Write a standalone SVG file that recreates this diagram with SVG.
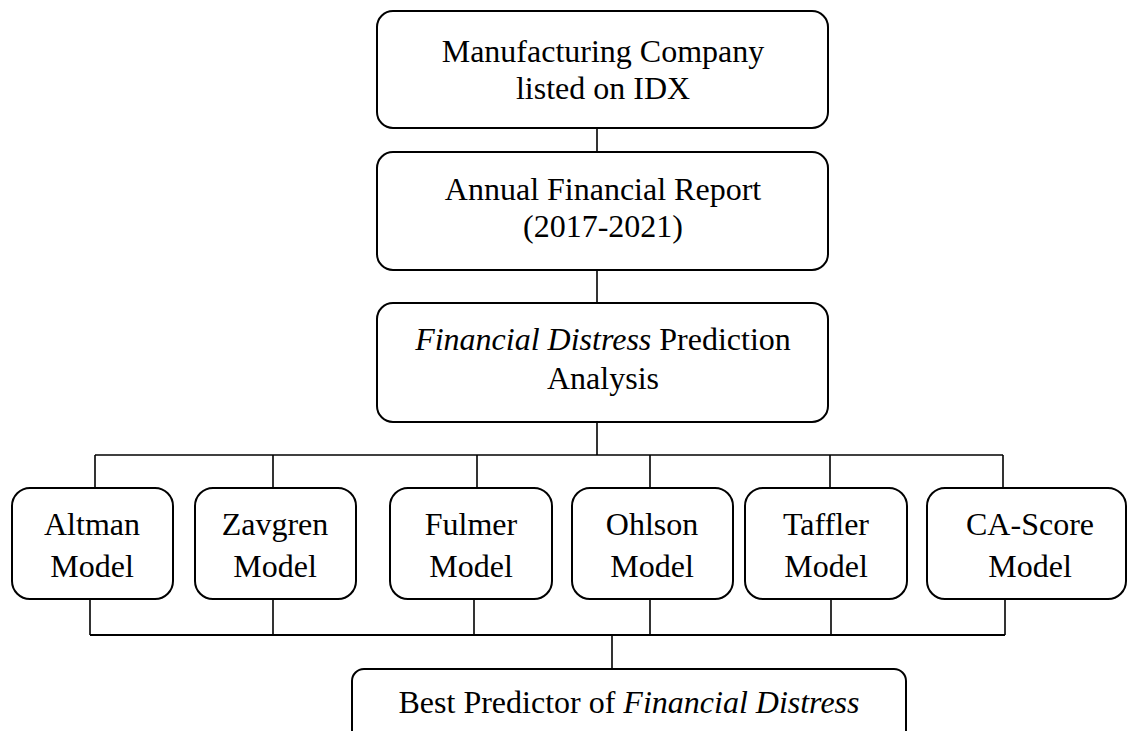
<svg xmlns="http://www.w3.org/2000/svg" width="1128" height="731" viewBox="0 0 1128 731">
  <style>
    .box { fill: #ffffff; stroke: #000000; stroke-width: 2; }
    .lbl { font-family: "Liberation Serif", "Times New Roman", serif; font-size: 32px; fill: #000000; text-anchor: middle; }
    .it { font-style: italic; }
    .wire { fill: none; stroke: #000000; stroke-width: 1.6; }
  </style>

  <rect width="1128" height="731" fill="#ffffff"/>

  <!-- connectors -->
  <g id="connectors" class="wire">
    <line x1="597" y1="128" x2="597" y2="152"/>
    <line x1="597" y1="270" x2="597" y2="303"/>
    <line x1="597" y1="422" x2="597" y2="455"/>
    <line x1="95" y1="455" x2="1003" y2="455"/>
    <line x1="95" y1="455" x2="95" y2="488"/>
    <line x1="273" y1="455" x2="273" y2="488"/>
    <line x1="477" y1="455" x2="477" y2="488"/>
    <line x1="650" y1="455" x2="650" y2="488"/>
    <line x1="830" y1="455" x2="830" y2="488"/>
    <line x1="1003" y1="455" x2="1003" y2="488"/>
    <line x1="90" y1="599" x2="90" y2="635"/>
    <line x1="273" y1="599" x2="273" y2="635"/>
    <line x1="474" y1="599" x2="474" y2="635"/>
    <line x1="650" y1="599" x2="650" y2="635"/>
    <line x1="831" y1="599" x2="831" y2="635"/>
    <line x1="1005" y1="599" x2="1005" y2="635"/>
    <line x1="90" y1="635" x2="1005" y2="635" stroke-width="2.2"/>
    <line x1="612" y1="635" x2="612" y2="669"/>
  </g>

  <g id="company">
    <rect class="box" x="377" y="11" width="451" height="117" rx="16"/>
    <text class="lbl" x="603" y="62">Manufacturing Company</text>
    <text class="lbl" x="603" y="99">listed on IDX</text>
  </g>

  <g id="report">
    <rect class="box" x="377" y="152" width="451" height="118" rx="16"/>
    <text class="lbl" x="603" y="200">Annual Financial Report</text>
    <text class="lbl" x="603" y="237">(2017-2021)</text>
  </g>

  <g id="analysis">
    <rect class="box" x="377" y="303" width="451" height="119" rx="16"/>
    <text class="lbl" x="603" y="350"><tspan class="it">Financial Distress</tspan> Prediction</text>
    <text class="lbl" x="603" y="389">Analysis</text>
  </g>

  <g id="altman">
    <rect class="box" x="12" y="488" width="161" height="111" rx="18"/>
    <text class="lbl" x="92" y="535">Altman</text>
    <text class="lbl" x="92" y="577">Model</text>
  </g>

  <g id="zavgren">
    <rect class="box" x="195" y="488" width="161" height="111" rx="18"/>
    <text class="lbl" x="275" y="535">Zavgren</text>
    <text class="lbl" x="275" y="577">Model</text>
  </g>

  <g id="fulmer">
    <rect class="box" x="390" y="488" width="162" height="111" rx="18"/>
    <text class="lbl" x="471" y="535">Fulmer</text>
    <text class="lbl" x="471" y="577">Model</text>
  </g>

  <g id="ohlson">
    <rect class="box" x="572" y="488" width="161" height="111" rx="18"/>
    <text class="lbl" x="652" y="535">Ohlson</text>
    <text class="lbl" x="652" y="577">Model</text>
  </g>

  <g id="taffler">
    <rect class="box" x="745" y="488" width="162" height="111" rx="18"/>
    <text class="lbl" x="826" y="535">Taffler</text>
    <text class="lbl" x="826" y="577">Model</text>
  </g>

  <g id="cascore">
    <rect class="box" x="927" y="488" width="199" height="111" rx="18"/>
    <text class="lbl" x="1030" y="535">CA-Score</text>
    <text class="lbl" x="1030" y="577">Model</text>
  </g>

  <g id="best">
    <rect class="box" x="352" y="669" width="554" height="90" rx="12"/>
    <text class="lbl" x="629" y="713">Best Predictor of <tspan class="it">Financial Distress</tspan></text>
  </g>
</svg>
